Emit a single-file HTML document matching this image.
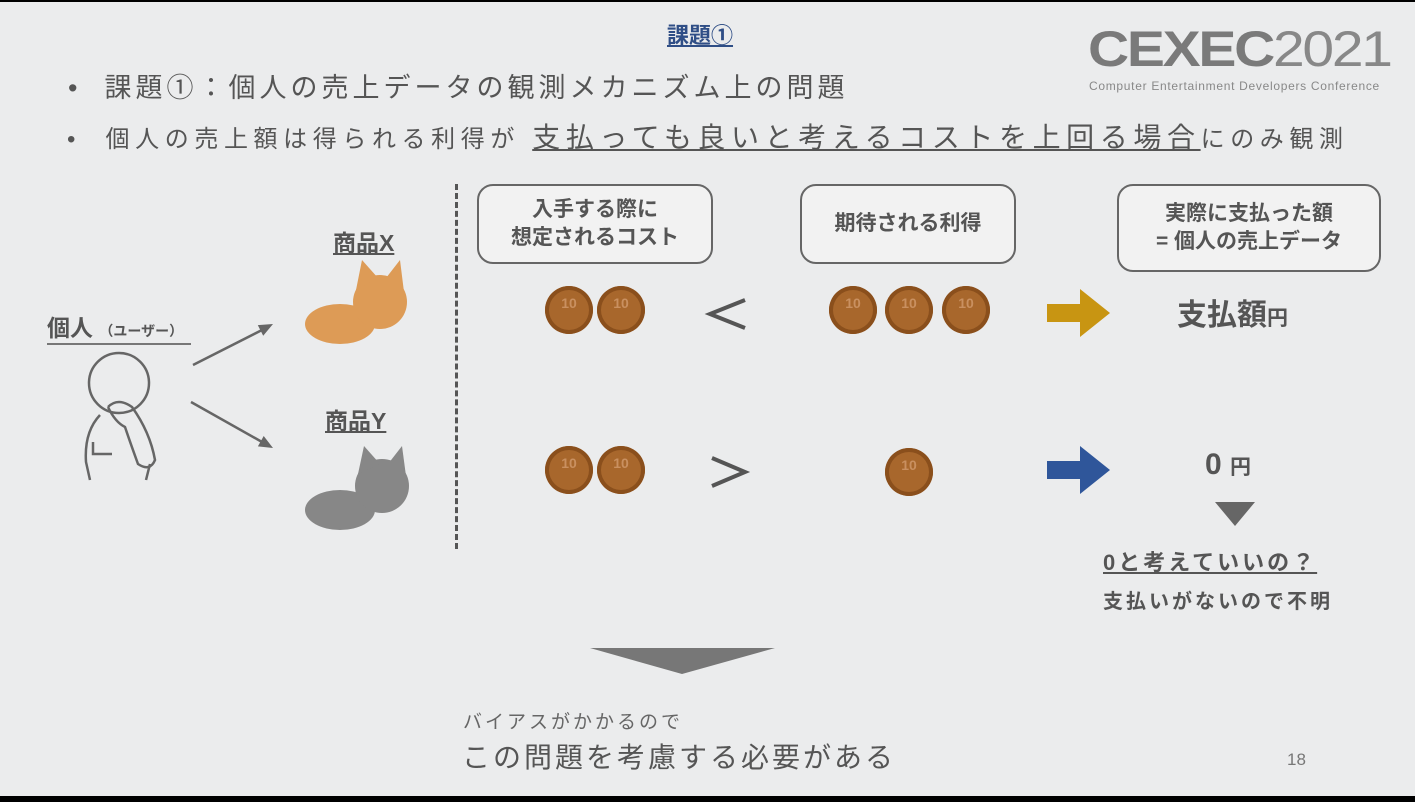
<!DOCTYPE html>
<html><head><meta charset="utf-8"><style>
body{margin:0;width:1415px;height:800px;background:#000;overflow:hidden;font-family:"Liberation Sans","Noto Sans CJK JP",sans-serif;}
#s{position:absolute;left:0;top:2px;width:1415px;height:794px;background:#ebeced;}
.t{position:absolute;white-space:nowrap;color:#555;}
.b{font-weight:bold;}
.box{position:absolute;border:2px solid #666;border-radius:16px;background:#f2f2f2;color:#555;font-weight:bold;font-size:21px;text-align:center;display:flex;align-items:center;justify-content:center;line-height:28px;}
.coin{position:absolute;width:48px;height:48px;border-radius:50%;background:#a8672c;box-shadow:inset 0 0 0 4px #8a4f1c;}
.coin::after{content:"10";position:absolute;left:0;right:0;top:9px;text-align:center;font-size:14px;color:#c99060;font-weight:bold;}
</style></head><body><div id="s">
<div class="t b" style="left:667px;top:16px;font-size:22px;color:#2f4e86;text-decoration:underline;">課題①</div>
<div class="t" style="left:1088px;top:18px;font-size:50px;color:#7a7a7a;font-weight:bold;letter-spacing:-2px;transform:scaleX(1.14);transform-origin:left top;">CEXEC<span style="font-weight:normal;color:#888;">2021</span></div>
<div class="t" style="left:1089px;top:77px;font-size:12px;color:#888;letter-spacing:0.7px;">Computer Entertainment Developers Conference</div>
<div class="t" style="left:68px;top:64px;font-size:27px;letter-spacing:4px;">•&nbsp; 課題①：個人の売上データの観測メカニズム上の問題</div>
<div class="t" style="left:67px;top:114px;font-size:24px;letter-spacing:5.6px;">•&nbsp; 個人の売上額は得られる利得が <span style="font-size:28px;text-decoration:underline;">支払っても良いと考えるコストを上回る場合</span>にのみ観測</div>
<div style="position:absolute;left:455px;top:182px;height:365px;border-left:3px dashed #555;"></div>
<div class="t b" style="left:333px;top:222px;font-size:23px;text-decoration:underline;">商品X</div>
<div class="t b" style="left:325px;top:400px;font-size:23px;text-decoration:underline;">商品Y</div>
<div class="t b" style="left:47px;top:307px;font-size:23px;border-bottom:2px solid #777;padding-right:8px;">個人 <span style="font-size:14px">（ユーザー）</span></div>
<svg style="position:absolute;left:0;top:0" width="1415" height="800">
<g stroke="#666" stroke-width="2.5" fill="none">
<circle cx="119" cy="381" r="30"/>
<path d="M100 413 Q84 430 86 460 L90 478 M150 462 L146 478 M93 440 L93 452 L112 452"/>
<path d="M108 405 Q118 395 132 405 Q150 430 155 458 Q150 470 138 462 Q130 440 125 425 Q115 420 108 405"/>
<line x1="193" y1="363" x2="262" y2="328"/><line x1="191" y1="400" x2="262" y2="440"/>
</g>
<polygon points="273,322 263.2,333.7 257.8,323.1" fill="#666"/>
<polygon points="273,446 257.9,444.4 263.7,434" fill="#666"/>
<path d="M745 298 L710 312 L745 326" stroke="#555" stroke-width="4" fill="none"/>
<path d="M712 456 L745 470 L712 484" stroke="#555" stroke-width="4" fill="none"/>
<polygon points="1047,302 1080,302 1080,287 1110,311 1080,335 1080,320 1047,320" fill="#c89512"/>
<polygon points="1047,459 1080,459 1080,444 1110,468 1080,492 1080,477 1047,477" fill="#2f569a"/>
<polygon points="1215,500 1255,500 1235,524" fill="#666"/>
<polygon points="590,646 775,646 682,672" fill="#777"/>
<ellipse cx="340" cy="322" rx="35" ry="20" fill="#dd9b56"/><circle cx="380" cy="300" r="27" fill="#dd9b56"/>
<polygon points="356,288 362,258 378,276" fill="#dd9b56"/><polygon points="386,276 400,258 404,290" fill="#dd9b56"/>
<ellipse cx="340" cy="508" rx="35" ry="20" fill="#878787"/><circle cx="382" cy="484" r="27" fill="#878787"/>
<polygon points="358,472 364,444 380,462" fill="#878787"/><polygon points="388,462 402,444 406,474" fill="#878787"/>
</svg>
<div class="box" style="left:477px;top:182px;width:232px;height:76px;">入手する際に<br>想定されるコスト</div>
<div class="box" style="left:800px;top:182px;width:212px;height:76px;">期待される利得</div>
<div class="box" style="left:1117px;top:182px;width:260px;height:84px;">実際に支払った額<br>= 個人の売上データ</div>
<div class="coin" style="left:545px;top:284px"></div><div class="coin" style="left:597px;top:284px"></div>
<div class="coin" style="left:829px;top:284px"></div><div class="coin" style="left:885px;top:284px"></div><div class="coin" style="left:942px;top:284px"></div>
<div class="coin" style="left:545px;top:444px"></div><div class="coin" style="left:597px;top:444px"></div>
<div class="coin" style="left:885px;top:446px"></div>
<div class="t b" style="left:1177px;top:288px;font-size:30px;">支払額<span style="font-size:21px">円</span></div>
<div class="t b" style="left:1205px;top:446px;font-size:30px;">0 <span style="font-size:21px">円</span></div>
<div class="t b" style="left:1103px;top:543px;font-size:22px;text-decoration:underline;letter-spacing:3px;">0と考えていいの？</div>
<div class="t b" style="left:1103px;top:583px;font-size:20px;letter-spacing:3px;">支払いがないので不明</div>
<div class="t" style="left:463px;top:705px;font-size:19px;letter-spacing:3px;color:#666;">バイアスがかかるので</div>
<div class="t" style="left:462px;top:734px;font-size:28px;letter-spacing:3px;color:#555;">この問題を考慮する必要がある</div>
<div class="t" style="left:1287px;top:748px;font-size:17px;color:#777;">18</div>
</div></body></html>
